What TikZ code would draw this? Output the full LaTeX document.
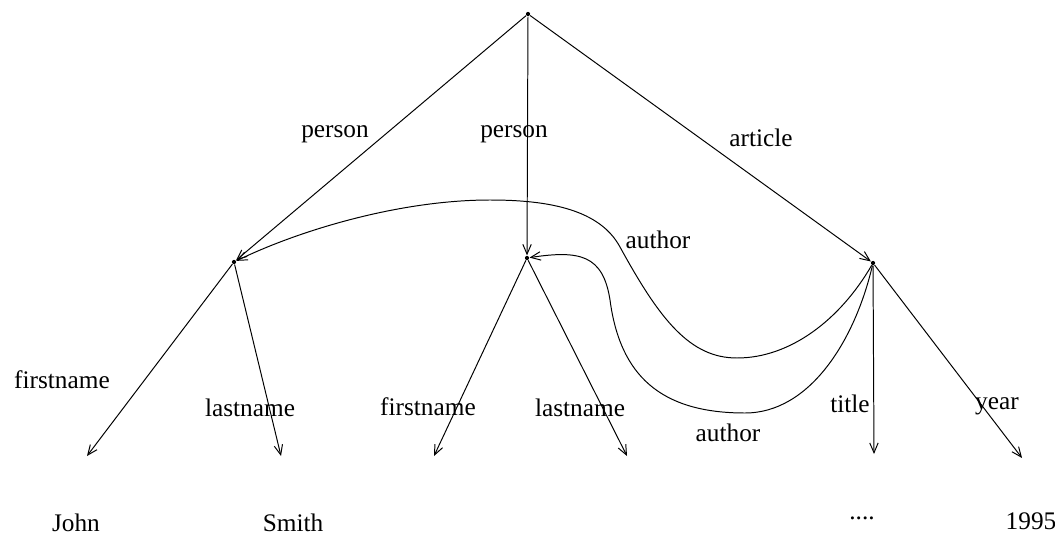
\documentclass[tikz,border=0pt]{standalone}
\usepackage{fontspec}
\setmainfont{Liberation Serif}
\usetikzlibrary{arrows.meta}
\tikzset{
  tree/.style={x=0.25mm, y=-0.25mm, line width=0.7pt},
  tvertex/.style={circle, fill, inner sep=0pt, minimum size=3pt},
  tedge/.style={-{Straight Barb[length=7pt,width=6pt]}},
  tlabel/.style={font=\fontsize{18}{20}\selectfont, inner sep=1pt},
  tleaf/.style={font=\fontsize{18}{20}\selectfont, inner sep=1pt},
}
\begin{document}
\begin{tikzpicture}[tree]
  \useasboundingbox (0,0) rectangle (1055,538);
  % vertices
  \node[tvertex] (root) at (528,14) {};
  \node[tvertex] (pA) at (234,262) {};
  \node[tvertex] (pB) at (527,258) {};
  \node[tvertex] (art) at (873,263) {};
  % arrow ends above the values
  \coordinate (fnA) at (87,456);
  \coordinate (lnA) at (281,456);
  \coordinate (fnB) at (434,456);
  \coordinate (lnB) at (627,456);
  \coordinate (ttl) at (874,454);
  \coordinate (yr) at (1022,458);
  % values
  \node[tleaf] (john) at (76,523) {John};
  \node[tleaf] (smith) at (293,523) {Smith};
  \node[tleaf] (dots) at (862,518) {....};
  \node[tleaf] (year) at (1031,521) {1995};
  % tree edges
  \draw[tedge] (root) -- (pA);
  \draw[tedge] (root) -- (pB);
  \draw[tedge] (root) -- (art);
  \draw[tedge] (pA) -- (fnA);
  \draw[tedge] (pA) -- (lnA);
  \draw[tedge] (pB) -- (fnB);
  \draw[tedge] (pB) -- (lnB);
  \draw[tedge] (art) -- (ttl);
  \draw[tedge] (art) -- (yr);
  % author references
  \draw[tedge] (art) .. controls (840,320) and (790,358) .. (737,358)
    .. controls (690,358) and (660,320) .. (620,247)
    .. controls (600,210) and (550,200) .. (490,200)
    .. controls (400,200) and (300,230) .. (pA);
  \draw[tedge] (art) .. controls (855,340) and (810,413) .. (745,413)
    .. controls (660,413) and (620,375) .. (610,300)
    .. controls (603,255) and (580,250) .. (pB);
  % edge labels
  \node[tlabel] at (335,134) {person};
  \node[tlabel] at (514,134) {person};
  \node[tlabel] at (761,138) {article};
  \node[tlabel] at (658,240) {author};
  \node[tlabel] at (728,433) {author};
  \node[tlabel] at (62,380) {firstname};
  \node[tlabel] at (250,408) {lastname};
  \node[tlabel] at (428,407) {firstname};
  \node[tlabel] at (580,408) {lastname};
  \node[tlabel] at (850,404) {title};
  \node[tlabel] at (997,406) {year};
\end{tikzpicture}
\end{document}
